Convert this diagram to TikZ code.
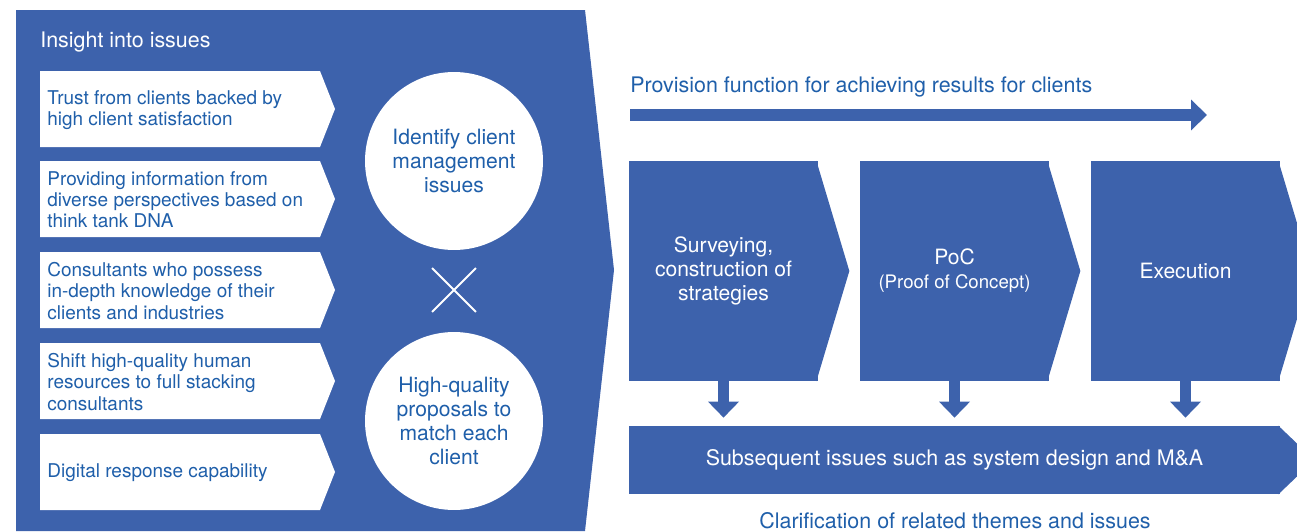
\documentclass[tikz,border=0pt]{standalone}
\usepackage{fontspec}
\setmainfont{TeX Gyre Heros}
\usepackage{xcolor}
\usetikzlibrary{arrows.meta,positioning,calc,shapes.misc}
\definecolor{panelblue}{HTML}{3D62AC}
\definecolor{textblue}{HTML}{1F5FAA}

\begin{document}
\begin{tikzpicture}[x=0.02cm,y=-0.02cm,
  itembox/.style={fill=white},
  itemtext/.style={anchor=west,text=textblue,align=left,inner sep=0pt,font=\fontsize{10.8}{12}\selectfont},
  bubble/.style={circle,fill=white,text=textblue,minimum size=3.56cm,inner sep=0pt,align=center,font=\fontsize{12}{13.6}\selectfont},
  stepbox/.style={fill=panelblue,text=white,minimum width=3.78cm,minimum height=4.4cm,inner sep=0pt,align=center,font=\fontsize{12}{13.6}\selectfont},
  downarrow/.style={panelblue,line width=0.22cm,-{Triangle[length=0.32cm,width=0.6cm]},shorten >=0.16cm},
  bluetext/.style={text=textblue,inner sep=0pt,font=\fontsize{12.2}{13.6}\selectfont}]
\clip (0,0) rectangle (1297,531);
\fill[panelblue] (16,10) -- (585,10) -- (614,270) -- (585,531) -- (16,531) -- cycle;
\node[anchor=west,text=white,inner sep=0pt,font=\fontsize{12.2}{13.6}\selectfont] (insight) at (40,42) {Insight into issues};
\foreach \y/\txt [count=\i] in {71/{Trust from clients backed by\\high client satisfaction},
    161/{Providing information from\\diverse perspectives based on\\think tank DNA},
    252/{Consultants who possess\\in-depth knowledge of their\\clients and industries},
    343/{Shift high-quality human\\resources to full stacking\\consultants},
    434/{Digital response capability}}{
  \fill[itembox] (40,\y) -- (320,\y) -- (335,\y+38) -- (320,\y+76) -- (40,\y+76) -- cycle;
  \node[itemtext] (item\i) at (47,\y+39) {\txt};
}
\node[bubble] (issues) at (454,161) {Identify client\\management\\issues};
\node[bubble] (proposals) at (454,421) {High-quality\\proposals to\\match each\\client};
\node[cross out,draw=white,line width=1.1pt,minimum size=0.84cm,inner sep=0pt] (times) at (454,290) {};

\node[bluetext,anchor=west] (provision) at (630,87) {Provision function for achieving results for clients};
\coordinate (flowL) at (630,115);
\coordinate (flowR) at (1207,115);
\draw[panelblue,line width=0.24cm,-{Triangle[length=0.32cm,width=0.6cm]}] (flowL) -- (flowR);

\node[stepbox] (survey) at (723.5,271) {Surveying,\\construction of\\strategies};
\node[stepbox] (poc) at (954.5,271) {PoC\\{\fontsize{10.6}{12}\selectfont(Proof of Concept)}};
\node[stepbox] (exec) at (1185.5,271) {Execution};
\foreach \s in {survey,poc,exec}
  \fill[panelblue] ($(\s.north east)+(-2,0)$) -- ($(\s.east)+(31,0)$) -- ($(\s.south east)+(-2,0)$) -- cycle;

\node[fill=panelblue,text=white,minimum width=13.02cm,minimum height=1.36cm,inner sep=0pt,font=\fontsize{12.2}{13.6}\selectfont] (later) at (954.5,460) {Subsequent issues such as system design and M\&A};
\fill[panelblue] ($(later.north east)+(-2,0)$) -- ($(later.east)+(34,0)$) -- ($(later.south east)+(-2,0)$) -- cycle;
\foreach \s in {survey,poc,exec}
  \draw[downarrow] (\s.south) -- (\s.south |- later.north);

\node[bluetext] (clarify) at (955,521) {Clarification of related themes and issues};
\end{tikzpicture}
\end{document}
